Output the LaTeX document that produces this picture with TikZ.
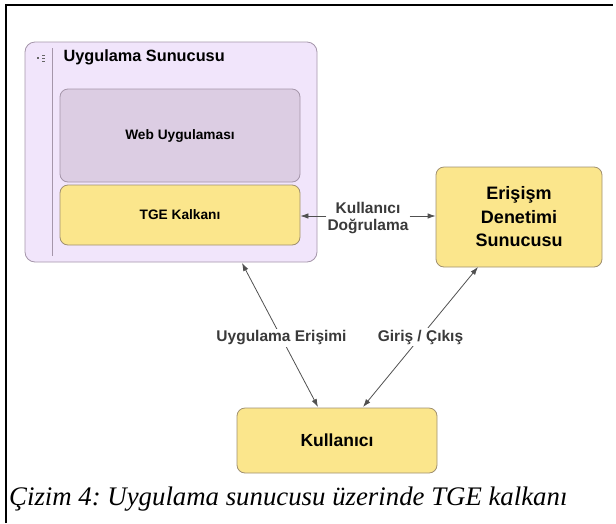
\documentclass[tikz,border=0pt]{standalone}
\usepackage{fontspec}
\setmainfont{Liberation Sans}
\newfontfamily\captionfont{Liberation Serif}
\usetikzlibrary{arrows.meta}
\frenchspacing
\definecolor{serverfill}{HTML}{F1E5FB}
\definecolor{serverline}{HTML}{A596AA}
\definecolor{webfill}{HTML}{DCCDE3}
\definecolor{shieldfill}{HTML}{FBE68C}
\definecolor{boxline}{HTML}{A09070}
\definecolor{linkgray}{HTML}{505050}
\definecolor{labelgray}{HTML}{3A3A3A}
\tikzset{
  box/.style={draw=boxline, line width=0.8pt, rounded corners=8pt, inner sep=0pt},
  link/.style={draw=linkgray, line width=0.8pt, {Latex[length=8pt,width=5.5pt]}-{Latex[length=8pt,width=5.5pt]}},
  onearrow/.style={draw=linkgray, line width=0.8pt, -{Latex[length=8pt,width=5.5pt]}},
  linklabel/.style={text=labelgray, font=\bfseries\fontsize{15.5}{18}\selectfont, align=center, fill=white, inner sep=2pt},
}
\begin{document}
\begin{tikzpicture}[x=1pt,y=-1pt]
\useasboundingbox (0,0) rectangle (616,523);
% page frame
\draw[line width=1.3pt] (6,523) -- (6,5) -- (613,5);

% application server container
\node[box, draw=serverline, fill=serverfill, minimum width=292pt, minimum height=220pt, rounded corners=10pt] (srv) at (171,152) {};
\draw[serverline, line width=0.7pt] (52,48) -- (52,256);
\fill[gray!80!black] (36.5,57) rectangle (38.5,59);
\foreach \yy in {54.5,57.5,60.5} \fill[gray!80!black] (42,\yy) rectangle (45,\yy+1.2);
\node[anchor=west, font=\bfseries\fontsize{16.3}{19}\selectfont] (srvtitle) at (60,57) {Uygulama Sunucusu};

\node[box, draw=serverline, fill=webfill, minimum width=240pt, minimum height=93pt, font=\bfseries\fontsize{13.7}{16}\selectfont] (web) at (180,135.5) {Web Uygulaması};
\node[box, fill=shieldfill, minimum width=240pt, minimum height=60pt, font=\bfseries\fontsize{13.7}{16}\selectfont] (tge) at (180,215) {TGE Kalkanı};

% access control server and user
\node[box, fill=shieldfill, minimum width=166pt, minimum height=100pt, align=center, font=\bfseries\fontsize{18}{23.5}\selectfont] (acs) at (519,217) {Erişişm\\Denetimi\\Sunucusu};
\node[box, fill=shieldfill, minimum width=200pt, minimum height=65pt, font=\bfseries\fontsize{17.5}{20}\selectfont] (usr) at (337,440.5) {Kullanıcı};

% connectors
\node[linklabel, font=\bfseries\fontsize{15.5}{17.5}\selectfont, inner sep=1pt] (auth) at (368,218) {Kullanıcı\\Doğrulama};
\draw[onearrow] (auth.west |- 0,216) -- (tge.east |- 0,216);
\draw[onearrow] (auth.east |- 0,216) -- (acs.west |- 0,216);

\coordinate (appTop) at (242,263);
\coordinate (appBot) at (318,407);
\draw[link] (appTop) -- (appBot) node[linklabel, pos=0.52] (applbl) {Uygulama Erişimi};

\coordinate (ioTop) at (478,267);
\coordinate (ioBot) at (363,407);
\draw[link] (ioBot) -- (ioTop) node[linklabel, pos=0.5] (iolbl) {Giriş / Çıkış};

% caption
\node[anchor=base west, inner sep=0pt, font=\captionfont\itshape\fontsize{26.8}{30}\selectfont] (cap) at (9,505) {Çizim 4: Uygulama sunucusu üzerinde TGE kalkanı};
\end{tikzpicture}
\end{document}
